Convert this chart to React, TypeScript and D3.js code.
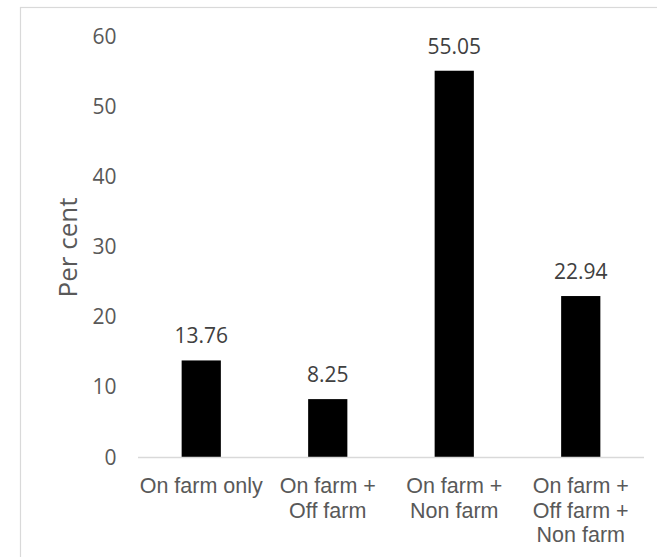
import React from "react";
import * as d3 from "d3";

const categories: string[][] = [
  ["On farm only"],
  ["On farm +", "Off farm"],
  ["On farm +", "Non farm"],
  ["On farm +", "Off farm +", "Non farm"],
];
const values: number[] = [13.76, 8.25, 55.05, 22.94];
const valueLabels: string[] = ["13.76", "8.25", "55.05", "22.94"];
const yTicks: number[] = [0, 10, 20, 30, 40, 50, 60];
const yTitle = "Per cent";

const W = 657;
const H = 557;

export default function App() {
  const keys = categories.map((c) => c.join(" "));
  const x = d3
    .scaleBand<string>()
    .domain(keys)
    .range([138, 644])
    .paddingInner(0.69)
    .paddingOuter(0.345);
  const y = d3.scaleLinear().domain([0, 60]).range([457, 36]);
  const numFont = "'Open Sans', 'DejaVu Sans', sans-serif";
  const catFont = "'Liberation Sans', Arial, sans-serif";
  const grey = "#595959";

  return (
    <svg
      width={W}
      height={H}
      style={{ position: "absolute", left: 0, top: 0, background: "#fff" }}
    >
      <rect x={20.5} y={7.5} width={700} height={600} fill="#fff" stroke="#d9d9d9" strokeWidth={1.2} />
      {yTicks.map((t) => (
        <text
          key={t}
          x={116.5}
          y={y(t)}
          dy="0.36em"
          textAnchor="end"
          fontFamily={numFont}
          fontSize={21}
          fill={grey}
        >
          {t}
        </text>
      ))}
      <text
        transform={`translate(77, ${y(30) + 1}) rotate(-90)`}
        textAnchor="middle"
        fontFamily={numFont}
        fontSize={26}
        fill={grey}
      >
        {yTitle}
      </text>
      {values.map((v, i) => (
        <rect
          key={keys[i]}
          x={x(keys[i])!}
          y={y(v)}
          width={x.bandwidth()}
          height={y(0) - y(v)}
          fill="#000"
        />
      ))}
      <line x1={138} x2={644} y1={y(0) + 0.5} y2={y(0) + 0.5} stroke="#d9d9d9" strokeWidth={1.3} />
      {values.map((v, i) => (
        <text
          key={"l" + i}
          x={x(keys[i])! + x.bandwidth() / 2}
          y={y(v) - 17}
          textAnchor="middle"
          fontFamily={numFont}
          fontSize={21}
          fill="#404040"
        >
          {valueLabels[i]}
        </text>
      ))}
      {categories.map((lines, i) => (
        <text
          key={"c" + i}
          textAnchor="middle"
          fontFamily={catFont}
          fontSize={21.5}
          fill={grey}
        >
          {lines.map((ln, j) => (
            <tspan key={j} x={x(keys[i])! + x.bandwidth() / 2} y={493 + j * 24.5}>
              {ln}
            </tspan>
          ))}
        </text>
      ))}
    </svg>
  );
}
